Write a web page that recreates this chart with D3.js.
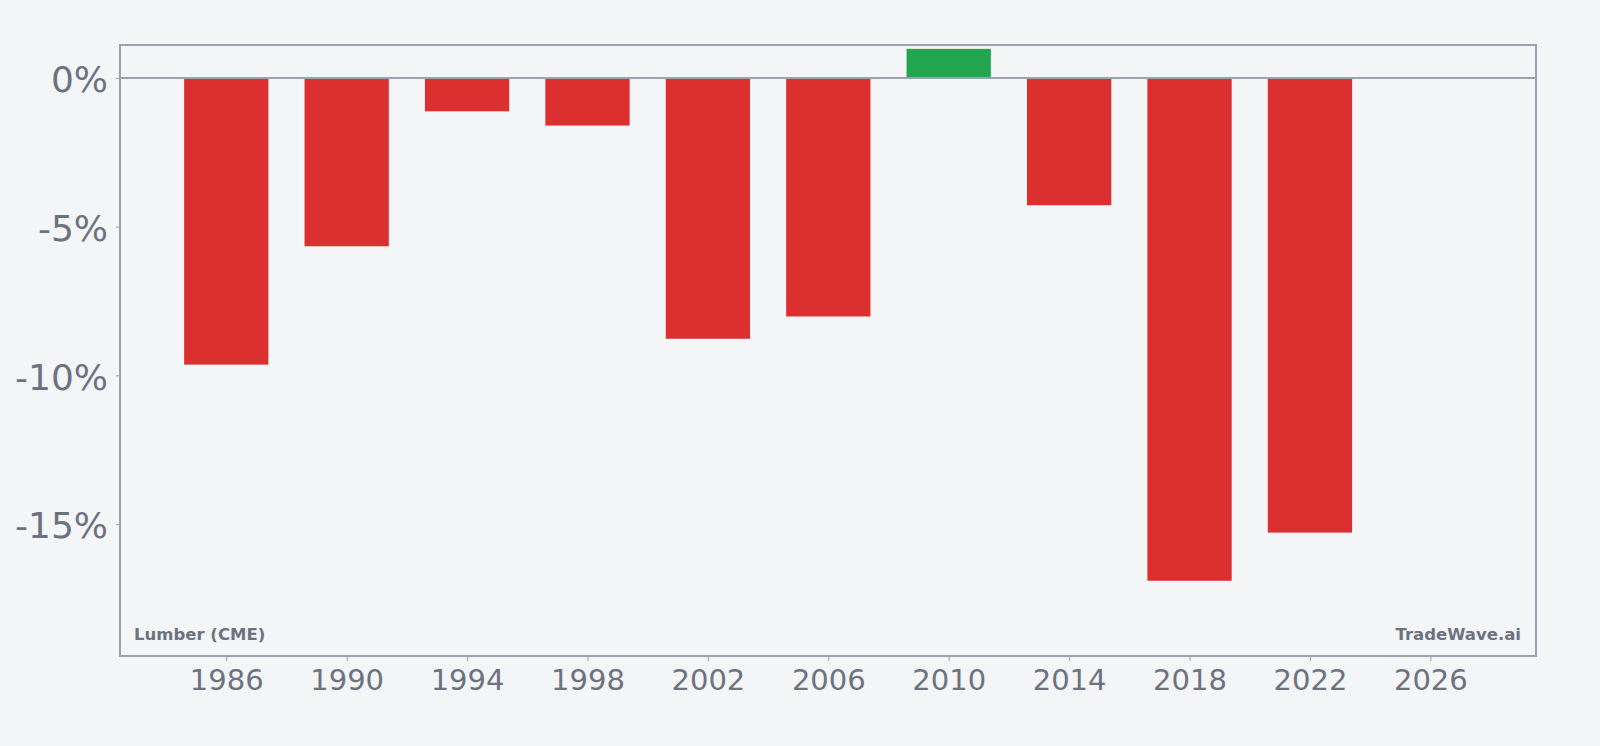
<!DOCTYPE html>
<html>
<head>
<meta charset="utf-8">
<script src="https://cdn.jsdelivr.net/npm/d3@7"></script>
<style>
  html, body { margin: 0; padding: 0; background: #f4f5f7; }
  svg { display: block; font-family: "DejaVu Sans", sans-serif; }
</style>
</head>
<body>
<div id="chart"></div>
<script>
'use strict'

// data
const years = [1986, 1990, 1994, 1998, 2002, 2006, 2010, 2014, 2018, 2022]
const returns = [-9.64, -5.66, -1.12, -1.60, -8.77, -8.02, 0.98, -4.28, -16.91, -15.29]

const xTickValues = [1986, 1990, 1994, 1998, 2002, 2006, 2010, 2014, 2018, 2022, 2026]
const yTickValues = [0, -5, -10, -15]

const seriesLabel = "Lumber (CME)"
const brandLabel = "TradeWave.ai"

////////////////////////////////////
//////////// svg setup /////////////
////////////////////////////////////

const svgWidth = 1600
const svgHeight = 746
const margin = { left: 120, right: 64, top: 45, bottom: 90 }
const width = svgWidth - margin.left - margin.right
const height = svgHeight - margin.top - margin.bottom

const textColor = "#6b7280"
const frameColor = "#9ca3af"

const svg = d3.select('#chart')
    .append('svg')
    .attr("width", svgWidth)
    .attr("height", svgHeight)

svg.append("rect")
    .attr("width", svgWidth)
    .attr("height", svgHeight)
    .attr("fill", "#f4f5f7")

const g = svg.append('g')
    .attr("transform", `translate(${margin.left},${margin.top})`)

////////////////////////////////////
//////////// Scales ////////////////
////////////////////////////////////

const x = d3.scaleLinear()
    .domain([1982.47, 2029.51])
    .range([0, width])

const y = d3.scaleLinear()
    .domain([-19.44, 1.11])
    .range([height, 0])

const barYears = 2.8
const barW = x(years[0] + barYears) - x(years[0])

////////////////////////////////////
//////////// Bars //////////////////
////////////////////////////////////

g.selectAll(".bar")
    .data(years.map((yr, i) => ({ year: yr, value: returns[i] })))
    .join("rect")
    .attr("class", "bar")
    .attr("x", d => x(d.year) - barW / 2)
    .attr("width", barW)
    .attr("y", d => y(Math.max(0, d.value)))
    .attr("height", d => Math.abs(y(d.value) - y(0)))
    .attr("fill", d => d.value >= 0 ? "#21a64f" : "#dc3030")

// zero line
g.append("line")
    .attr("x1", 0)
    .attr("x2", width)
    .attr("y1", y(0))
    .attr("y2", y(0))
    .attr("stroke", frameColor)
    .attr("stroke-width", 2)

////////////////////////////////////
//////////// Axis //////////////////
////////////////////////////////////

const xAxis = d3.axisBottom(x)
    .tickValues(xTickValues)
    .tickFormat(d3.format("d"))
    .tickSize(5)
    .tickPadding(8)

const xg = g.append("g")
    .attr("transform", `translate(0,${height})`)
    .call(xAxis)
xg.selectAll("text")
    .attr("fill", textColor)
    .attr("font-size", "29px")
    .attr("font-family", "DejaVu Sans")
xg.selectAll("line").attr("stroke", frameColor)

const yAxis = d3.axisLeft(y)
    .tickValues(yTickValues)
    .tickFormat(d => d + "%")
    .tickSize(4)
    .tickPadding(8)

const yg = g.append("g").call(yAxis)
yg.selectAll("text")
    .attr("fill", textColor)
    .attr("font-size", "36px")
    .attr("font-family", "DejaVu Sans")
    .attr("dy", "0.38em")
yg.selectAll("line").attr("stroke", frameColor)

g.selectAll(".domain").remove()

// frame
g.append("rect")
    .attr("x", 0)
    .attr("y", 0)
    .attr("width", width)
    .attr("height", height)
    .attr("fill", "none")
    .attr("stroke", frameColor)
    .attr("stroke-width", 2)

////////////////////////////////////
//////////// Labels ////////////////
////////////////////////////////////

g.append("text")
    .attr("x", 14)
    .attr("y", height - 16)
    .text(seriesLabel)
    .attr("fill", textColor)
    .attr("font-size", "16.5px")
    .attr("font-weight", "bold")

g.append("text")
    .attr("x", width - 15)
    .attr("y", height - 16)
    .attr("text-anchor", "end")
    .text(brandLabel)
    .attr("fill", textColor)
    .attr("font-size", "16.5px")
    .attr("font-weight", "bold")
</script>
</body>
</html>
